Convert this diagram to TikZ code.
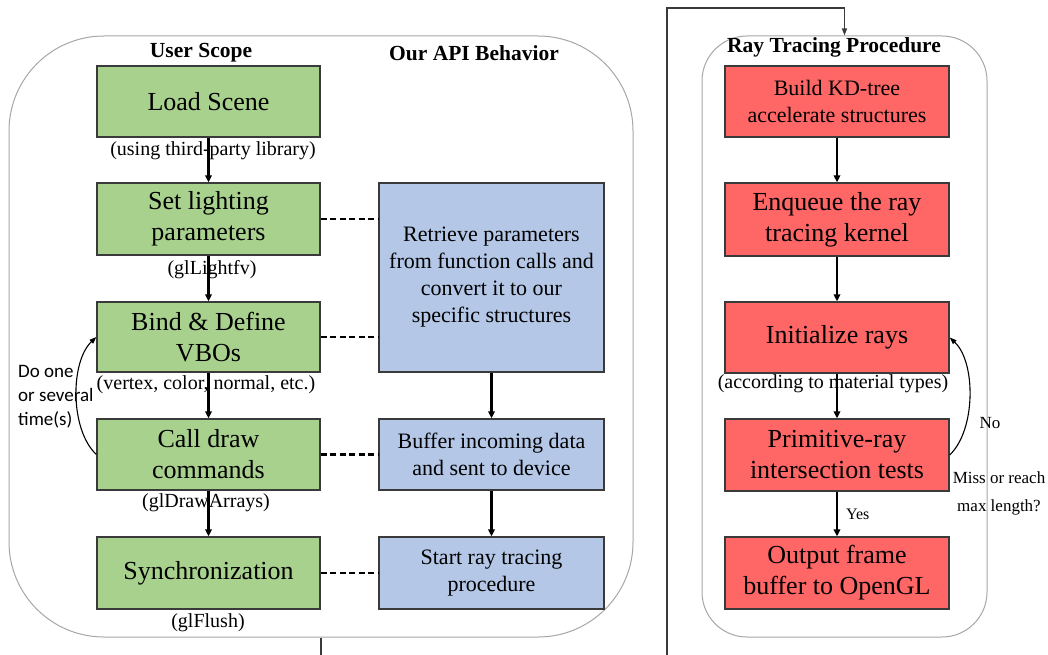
\documentclass[tikz,border=0pt]{standalone}
\usepackage{fontspec}
\setmainfont{Liberation Serif}
\newfontfamily\calib{Carlito}
\usetikzlibrary{arrows.meta}
\definecolor{gfill}{HTML}{A9D18E}
\definecolor{bfill}{HTML}{B4C7E7}
\definecolor{rfill}{HTML}{FF6666}
\definecolor{bord}{HTML}{3A3A3A}
\definecolor{contc}{HTML}{A6A6A6}
\begin{document}
\begin{tikzpicture}[x=1pt,y=-1pt,
  box/.style={draw=bord,line width=1.3pt,inner sep=0pt,align=center,anchor=center},
  greenbox/.style={box,fill=gfill,minimum width=223pt,font=\fontsize{26}{31}\selectfont},
  bluebox/.style={box,fill=bfill,minimum width=225pt,font=\fontsize{22}{27}\selectfont},
  redbox/.style={box,fill=rfill,minimum width=224pt,font=\fontsize{26}{31}\selectfont},
  container/.style={draw=contc,line width=1pt,inner sep=0pt},
  captxt/.style={inner sep=0pt,font=\fontsize{20}{24}\selectfont},
  titletxt/.style={inner sep=0pt,font=\fontsize{21.5}{25}\selectfont\bfseries},
  smalltxt/.style={inner sep=0pt,font=\fontsize{17}{28}\selectfont,align=center},
  flow/.style={line width=2.3pt,-{Triangle[length=7pt,width=6.5pt]}},
  dashlink/.style={line width=2.6pt,dash pattern=on 6pt off 3.5pt},
  looparrow/.style={line width=1.1pt,-{Triangle[length=7pt,width=5pt]}},
  conn/.style={line width=1.4pt,draw=bord},
]
\useasboundingbox (0,0) rectangle (1048,655);
\clip (0,0) rectangle (1048,655);

% containers
\node[container,rounded corners=95pt,minimum width=624pt,minimum height=601pt] (leftc) at (321,336.5) {};
\node[container,rounded corners=45pt,minimum width=285pt,minimum height=601pt] (rightc) at (844.5,336.5) {};

% titles
\node[titletxt] (t1) at (201,53) {User Scope};
\node[titletxt] (t2) at (474,53) {Our API Behavior};
\node[titletxt] (t3) at (834,47) {Ray Tracing Procedure};

% green boxes
\node[greenbox,minimum height=71pt] (load) at (208.5,101.5) {Load Scene};
\node[greenbox,minimum height=72pt] (light) at (208.5,219) {Set lighting\\parameters};
\node[greenbox,minimum height=70pt] (bind) at (208.5,337) {Bind \& Define\\VBOs};
\node[greenbox,minimum height=71pt] (call) at (208.5,454.5) {Call draw\\commands};
\node[greenbox,minimum height=72pt] (sync) at (208.5,573) {Synchronization};

% captions
\node[captxt] (c1) at (213,151) {(using third-party library)};
\node[captxt] (c2) at (212,270) {(glLightfv)};
\node[captxt] (c3) at (206,385) {(vertex, color, normal, etc.)};
\node[captxt] (c4) at (206,503) {(glDrawArrays)};
\node[captxt] (c5) at (208,623) {(glFlush)};

% blue boxes
\node[bluebox,minimum height=189pt] (retr) at (491.5,277.5) {Retrieve parameters\\from function calls and\\convert it to our\\specific structures};
\node[bluebox,minimum height=71pt] (buff) at (491.5,454.5) {Buffer incoming data\\and sent to device};
\node[bluebox,minimum height=72pt] (start) at (491.5,573) {Start ray tracing\\procedure};

% red boxes
\node[redbox,minimum height=71pt,font=\fontsize{22}{27}\selectfont] (kd) at (837,101.5) {Build KD-tree\\accelerate structures};
\node[redbox,minimum height=73pt] (enq) at (837,219.5) {Enqueue the ray\\tracing kernel};
\node[redbox,minimum height=71pt] (init) at (837,337.5) {Initialize rays};
\node[redbox,minimum height=72pt] (prim) at (837,455) {Primitive-ray\\intersection tests};
\node[redbox,minimum height=72pt] (outp) at (837,573) {Output frame\\buffer to OpenGL};
\node[captxt] (c6) at (833,384) {(according to material types)};

% green flow
\draw[flow] (load) -- (light);
\draw[flow] (light) -- (bind);
\draw[flow] (bind) -- (call);
\draw[flow] (call) -- (sync);
% blue flow
\draw[flow] (retr) -- (buff);
\draw[flow] (buff) -- (start);
% red flow
\draw[flow] (kd) -- (enq);
\draw[flow] (enq) -- (init);
\draw[flow] (init) -- (prim);
\draw[flow] (prim) -- node[right=8pt,inner sep=0pt,font=\fontsize{16}{18}\selectfont] (yes) {Yes} (outp);

% dashed links
\draw[dashlink] (light.east) -- (light.east -| retr.west);
\draw[dashlink] (bind.east) -- (bind.east -| retr.west);
\draw[dashlink] (call) -- (buff);
\draw[dashlink] (sync) -- (start);

% left loop
\draw[looparrow] (call.west) .. controls (70,430) and (70,362) .. (bind.west);
\node[inner sep=0pt,anchor=west,align=left,font=\calib\fontsize{19}{24}\selectfont] (doone) at (18,397) {Do one\\or several\\time(s)};

% right loop
\draw[looparrow] (prim.east) .. controls (976,430) and (976,362) .. (init.east);
\node[inner sep=0pt,font=\fontsize{17}{20}\selectfont] (no) at (990,423) {No};
\node[smalltxt] (miss) at (999,493) {Miss or reach\\max length?};

% connector from left container to right container
\coordinate (p1) at (321,690);
\coordinate (p2) at (667,690);
\coordinate (p3) at (667,8);
\coordinate (p4) at (844.5,8);
\draw[conn,-{Triangle[length=7pt,width=5pt]}] (leftc.south) -- (p1) -- (p2) -- (p3) -- (p4) -- (rightc.north);
\end{tikzpicture}
\end{document}
